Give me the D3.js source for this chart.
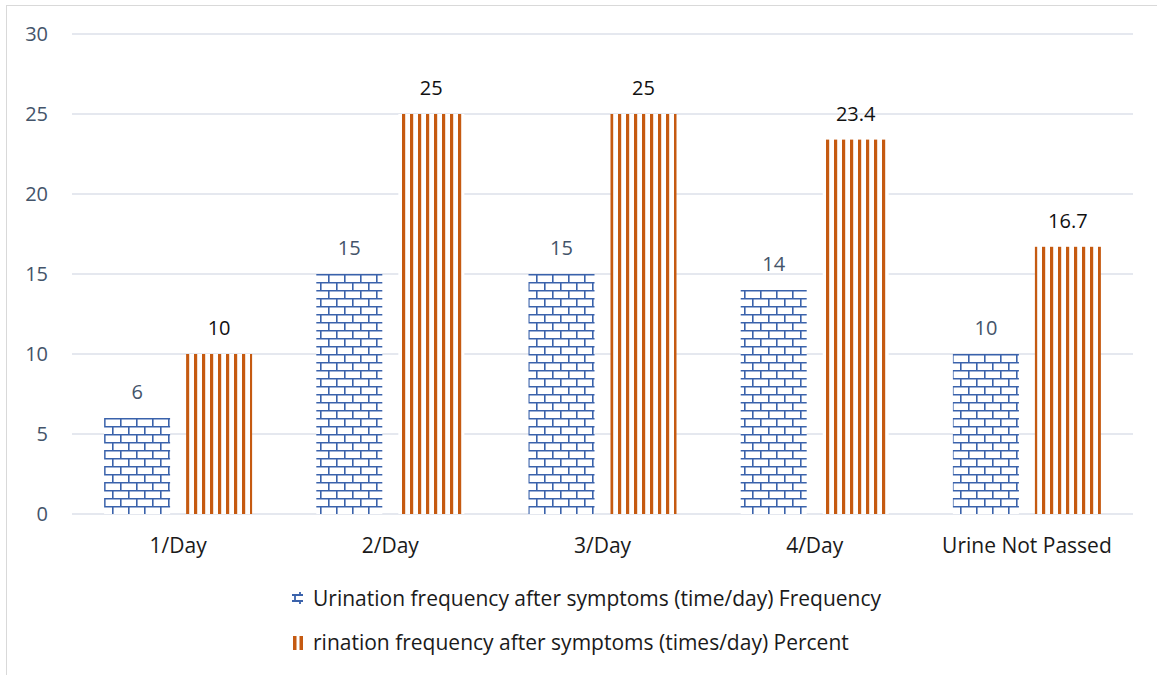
<!DOCTYPE html>
<html>
<head>
<meta charset="utf-8">
<script src="https://cdn.jsdelivr.net/npm/d3@7"></script>
<style>
  body { margin: 0; background: #fff; }
  svg { font-family: "Open Sans", sans-serif; }
</style>
</head>
<body>
<svg id="chart" width="1157" height="675"></svg>
<script>
// chart data
var categories = ['1/Day', '2/Day', '3/Day', '4/Day', 'Urine Not Passed'];
var frequency = [6, 15, 15, 14, 10];
var percent = [10, 25, 25, 23.4, 16.7];
var seriesNames = [
    'Urination frequency after symptoms (time/day) Frequency',
    'rination frequency after symptoms (times/day) Percent'
];
var yTicks = [0, 5, 10, 15, 20, 25, 30];

var blue = '#3a62ab', orange = '#c55a11';
var svg = d3.select('#chart');
var margin = {left: 72, right: 24, top: 34, bottom: 161};
var W = 1157, H = 675;

// frame
svg.append('rect')
    .attr('x', 6.5).attr('y', 5.5)
    .attr('width', W + 10).attr('height', H + 10)
    .attr('fill', 'none').attr('stroke', '#d9d9d9');

// patterns
var defs = svg.append('defs');
var brick = defs.append('pattern')
    .attr('id', 'brick')
    .attr('patternUnits', 'userSpaceOnUse')
    .attr('width', 16).attr('height', 16)
    .attr('x', 104).attr('y', 418);
brick.append('rect').attr('width', 16).attr('height', 16).attr('fill', '#fff');
brick.append('path')
    .attr('d', 'M0,0.8H16 M0,8.8H16 M0.8,0V8 M8.8,8V16')
    .attr('stroke', blue).attr('stroke-width', 1.6).attr('fill', 'none');

var stripes = defs.append('pattern')
    .attr('id', 'stripes')
    .attr('patternUnits', 'userSpaceOnUse')
    .attr('width', 8).attr('height', 8)
    .attr('x', 186).attr('y', 0);
stripes.append('rect').attr('width', 8).attr('height', 8).attr('fill', '#fff');
stripes.append('rect').attr('width', 3.2).attr('height', 8).attr('fill', orange);

// scales
var x = d3.scaleBand()
    .domain(categories)
    .range([margin.left, W - margin.right]);
var y = d3.scaleLinear()
    .domain([0, 30])
    .range([H - margin.bottom, margin.top]);

// grid
svg.append('g')
    .selectAll('line').data(yTicks).enter()
    .append('line')
    .attr('x1', margin.left).attr('x2', W - margin.right)
    .attr('y1', function(d){ return y(d); })
    .attr('y2', function(d){ return y(d); })
    .attr('stroke', '#dde1ea').attr('stroke-width', 1.3);

// y axis labels
var yAxis = svg.append('g')
    .attr('transform', 'translate(' + (margin.left - 24) + ',0)')
    .call(d3.axisLeft(y).tickValues(yTicks).tickSize(0).tickPadding(0));
yAxis.select('.domain').remove();
yAxis.selectAll('text')
    .attr('font-size', 20).attr('fill', '#44546a')
    .attr('font-family', '"Open Sans", sans-serif');

// x axis labels
var xAxis = svg.append('g')
    .attr('transform', 'translate(0,' + y(0) + ')')
    .call(d3.axisBottom(x).tickSize(0).tickPadding(24));
xAxis.select('.domain').remove();
xAxis.selectAll('text')
    .attr('font-size', 21).attr('fill', '#1a1a1a')
    .attr('font-family', '"Open Sans", sans-serif');

// bars
var barW = 66, off = 41;
function cx(d, i){ return x(categories[i]) + x.bandwidth() / 2; }

svg.append('g').selectAll('rect').data(frequency).enter()
    .append('rect')
    .attr('x', function(d, i){ return cx(d, i) - off - barW / 2; })
    .attr('y', function(d){ return y(d); })
    .attr('width', barW)
    .attr('height', function(d){ return y(0) - y(d); })
    .attr('fill', 'url(#brick)');

svg.append('g').selectAll('rect').data(percent).enter()
    .append('rect')
    .attr('x', function(d, i){ return cx(d, i) + off - barW / 2; })
    .attr('y', function(d){ return y(d); })
    .attr('width', barW)
    .attr('height', function(d){ return y(0) - y(d); })
    .attr('fill', 'url(#stripes)');

// value labels
svg.append('g').selectAll('text').data(frequency).enter()
    .append('text')
    .attr('x', function(d, i){ return cx(d, i) - off; })
    .attr('y', function(d){ return y(d) - 19; })
    .attr('text-anchor', 'middle')
    .attr('font-size', 20).attr('fill', '#44546a')
    .text(function(d){ return d; });

svg.append('g').selectAll('text').data(percent).enter()
    .append('text')
    .attr('x', function(d, i){ return cx(d, i) + off; })
    .attr('y', function(d){ return y(d) - 19; })
    .attr('text-anchor', 'middle')
    .attr('font-size', 20).attr('fill', '#111')
    .text(function(d){ return d; });

// legend
var legend = svg.append('g').attr('transform', 'translate(292,0)');
var l1 = legend.append('g').attr('transform', 'translate(0,599)');
l1.append('path')
    .attr('d', 'M0,-4H11 M0,2H11 M3,-4V2 M8,-7V-4 M8,2V5')
    .attr('stroke', blue).attr('stroke-width', 1.8).attr('fill', 'none');
l1.append('text').attr('x', 21).attr('y', 7)
    .attr('font-size', 21).attr('fill', '#1a1a1a').text(seriesNames[0]);

var l2 = legend.append('g').attr('transform', 'translate(0,643)');
l2.append('rect').attr('x', 1).attr('y', -7).attr('width', 3.5).attr('height', 14).attr('fill', orange);
l2.append('rect').attr('x', 7.5).attr('y', -7).attr('width', 3.5).attr('height', 14).attr('fill', orange);
l2.append('text').attr('x', 21).attr('y', 7)
    .attr('font-size', 21).attr('fill', '#1a1a1a').text(seriesNames[1]);
</script>
</body>
</html>
